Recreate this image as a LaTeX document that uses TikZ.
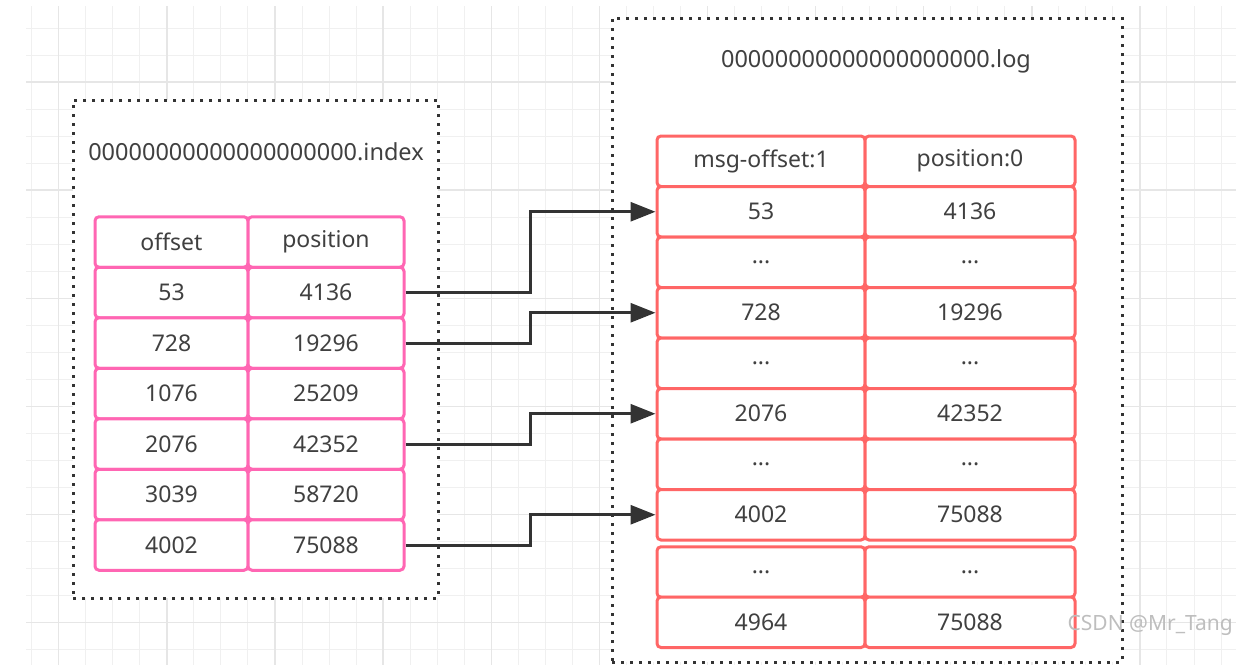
\documentclass[tikz,border=0pt]{standalone}
\usepackage{fontspec}
\setmainfont{Noto Sans}
\usetikzlibrary{arrows.meta}
\definecolor{txt}{HTML}{404040}
\definecolor{pinkc}{HTML}{FF66B3}
\definecolor{redc}{HTML}{FF6666}
\definecolor{gridc}{HTML}{F0F0F0}
\definecolor{gridm}{HTML}{E6E6E6}
\definecolor{dotc}{HTML}{333333}
\definecolor{arrc}{HTML}{333333}
\definecolor{wmc}{HTML}{BEBEBE}
\begin{document}
\begin{tikzpicture}[x=1pt,y=-1pt,
  cell/.style={draw, fill=white, line width=3pt, rounded corners=4pt, inner sep=0pt,
    text=txt, font=\fontsize{23}{28}\selectfont},
  pcell/.style={cell, draw=pinkc},
  rcell/.style={cell, draw=redc},
  lw/.style={minimum width=153pt, minimum height=50.5pt},
  rw/.style={minimum width=156pt, minimum height=50.5pt},
  lwl/.style={minimum width=208pt, minimum height=50.5pt},
  rwl/.style={minimum width=210pt, minimum height=50.5pt},
  dotbox/.style={draw=dotc, fill=white, line width=3pt, dash pattern=on 3pt off 6pt, inner sep=0pt},
  link/.style={draw=arrc, line width=3pt, -{Triangle[length=25pt,width=19pt]}},
  title/.style={text=txt, font=\fontsize{23.5}{28}\selectfont, inner sep=0pt}]

\fill[white] (0,0) rectangle (1236,665);
\useasboundingbox (0,0) rectangle (1236,665);

% background grid
\foreach \k in {0,...,44} \draw[gridc, line width=1pt] ({31.7+27.03*\k},6) -- ({31.7+27.03*\k},665);
\foreach \k in {0,...,23} \draw[gridc, line width=1pt] (26,{28+27.03*\k}) -- (1236,{28+27.03*\k});
\foreach \k in {1,5,...,41} \draw[gridm, line width=1.4pt] ({31.7+27.03*\k},6) -- ({31.7+27.03*\k},665);
\foreach \k in {2,6,...,22} \draw[gridm, line width=1.4pt] (26,{28+27.03*\k}) -- (1236,{28+27.03*\k});

% dotted containers
\node[dotbox, minimum width=365pt, minimum height=498pt] (idxbox) at (255.5,349) {};
\node[dotbox, minimum width=510pt, minimum height=644pt] (logbox) at (867,340) {};

\node[title] (idxtitle) at (256,152) {00000000000000000000.index};
\node[title] (logtitle) at (876,61) {00000000000000000000.log};

% index table
\node[pcell, lw] (i0a) at (171.5,242) {offset};
\node[pcell, rw] (i0b) at (326,242) {position};
\node[pcell, lw] (i1a) at (171.5,292.5) {53};
\node[pcell, rw] (i1b) at (326,292.5) {4136};
\node[pcell, lw] (i2a) at (171.5,343) {728};
\node[pcell, rw] (i2b) at (326,343) {19296};
\node[pcell, lw] (i3a) at (171.5,393.5) {1076};
\node[pcell, rw] (i3b) at (326,393.5) {25209};
\node[pcell, lw] (i4a) at (171.5,444) {2076};
\node[pcell, rw] (i4b) at (326,444) {42352};
\node[pcell, lw] (i5a) at (171.5,494.5) {3039};
\node[pcell, rw] (i5b) at (326,494.5) {58720};
\node[pcell, lw] (i6a) at (171.5,545) {4002};
\node[pcell, rw] (i6b) at (326,545) {75088};

% log table
\node[rcell, lwl] (l0a) at (761,161.25) {msg-offset:1};
\node[rcell, rwl] (l0b) at (970,161.25) {position:0};
\node[rcell, lwl] (l1a) at (761,211.75) {53};
\node[rcell, rwl] (l1b) at (970,211.75) {4136};
\node[rcell, lwl] (l2a) at (761,262.25) {...};
\node[rcell, rwl] (l2b) at (970,262.25) {...};
\node[rcell, lwl] (l3a) at (761,312.75) {728};
\node[rcell, rwl] (l3b) at (970,312.75) {19296};
\node[rcell, lwl] (l4a) at (761,363.25) {...};
\node[rcell, rwl] (l4b) at (970,363.25) {...};
\node[rcell, lwl] (l5a) at (761,413.75) {2076};
\node[rcell, rwl] (l5b) at (970,413.75) {42352};
\node[rcell, lwl] (l6a) at (761,464.25) {...};
\node[rcell, rwl] (l6b) at (970,464.25) {...};
\node[rcell, lwl] (l7a) at (761,514.75) {4002};
\node[rcell, rwl] (l7b) at (970,514.75) {75088};
\node[rcell, lwl] (l8a) at (761,572) {...};
\node[rcell, rwl] (l8b) at (970,572) {...};
\node[rcell, lwl] (l9a) at (761,622.25) {4964};
\node[rcell, rwl] (l9b) at (970,622.25) {75088};

% connectors
\draw[link] (i1b.east) -- ++(125,0) |- (l1a.west);
\draw[link] (i2b.east) -- ++(125,0) |- (l3a.west);
\draw[link] (i4b.east) -- ++(125,0) |- (l5a.west);
\draw[link] (i6b.east) -- ++(125,0) |- (l7a.west);

% watermark
\node[anchor=east, inner sep=0pt, text=wmc, font=\fontsize{21}{25}\selectfont] (wm) at (1233,625) {CSDN @Mr\_Tang};
\end{tikzpicture}
\end{document}
